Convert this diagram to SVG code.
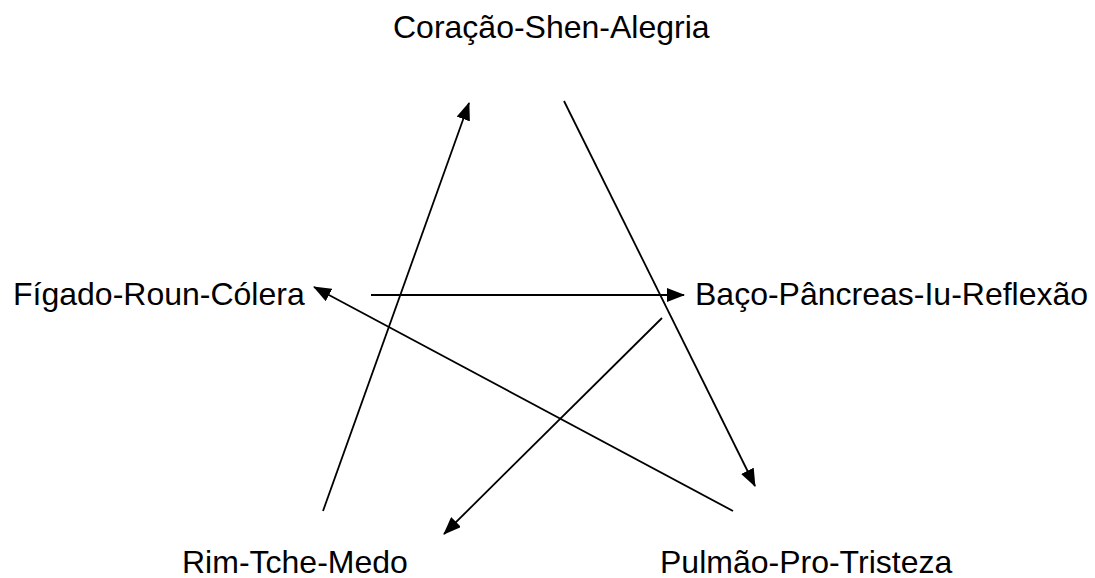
<svg xmlns="http://www.w3.org/2000/svg" width="1095" height="578" viewBox="0 0 1095 578">
<style>
text{font-family:"Liberation Sans",Arial,sans-serif;font-size:32px;fill:#000}
.c{fill:none;stroke:#000;stroke-width:1.8}
</style>
<defs>
<marker id="ah" markerUnits="userSpaceOnUse" viewBox="0 0 18 14" refX="17" refY="7" markerWidth="18" markerHeight="14" orient="auto">
<path d="M0,0 L18,7 L0,14 Z" fill="#000"/>
</marker>
</defs>
<rect width="1095" height="578" fill="#fff"/>
<g id="coracao"><text x="393" y="38">Coração-Shen-Alegria</text></g>
<g id="figado"><text x="13" y="305">Fígado-Roun-Cólera</text></g>
<g id="baco"><text x="695" y="305">Baço-Pâncreas-Iu-Reflexão</text></g>
<g id="rim"><text x="182" y="573">Rim-Tche-Medo</text></g>
<g id="pulmao"><text x="660" y="573">Pulmão-Pro-Tristeza</text></g>
<g id="connectors">
<line class="c" x1="323" y1="511" x2="469" y2="103" marker-end="url(#ah)"/>
<line class="c" x1="564" y1="101" x2="755" y2="486" marker-end="url(#ah)"/>
<line class="c" x1="371" y1="295" x2="684" y2="295" marker-end="url(#ah)"/>
<line class="c" x1="733" y1="511" x2="314" y2="287" marker-end="url(#ah)"/>
<line class="c" x1="662" y1="318" x2="444" y2="534" marker-end="url(#ah)"/>
</g>
</svg>
